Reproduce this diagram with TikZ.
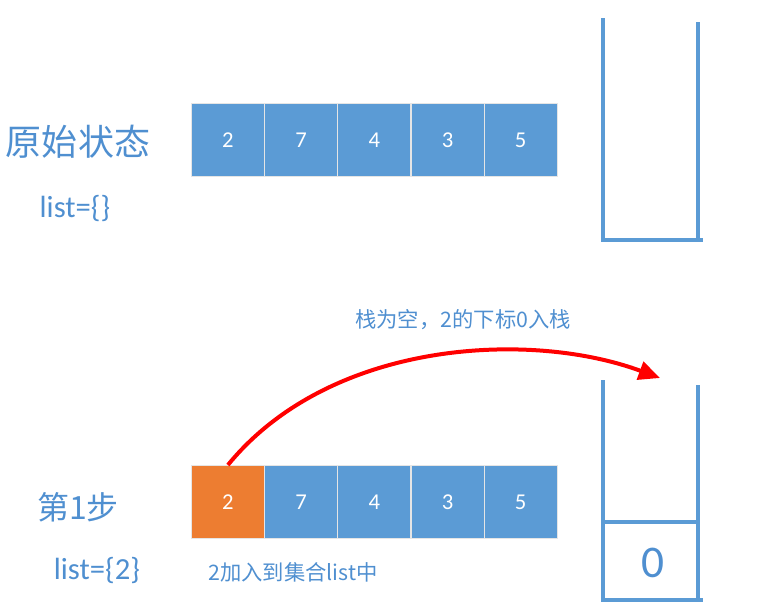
\documentclass[tikz,border=0pt]{standalone}
\usepackage{fontspec}
\usetikzlibrary{arrows.meta}
\setmainfont{Carlito}
\newfontfamily\cjk{Noto Sans CJK SC}
\definecolor{bl}{HTML}{5B9BD5}
\definecolor{txt}{HTML}{4F8FD0}
\definecolor{org}{HTML}{ED7D31}
\begin{document}
\begin{tikzpicture}[x=0.75pt,y=-0.75pt,
  cell/.style={draw=white!80!gray,line width=0.6pt,fill=bl,text=white,minimum width=54.75pt,minimum height=54.75pt,inner sep=0pt,font=\fontsize{17}{20}\selectfont,anchor=north west},
  lbl/.style={text=txt,inner sep=0pt},
  stk/.style={draw=bl,line width=2.4pt,line join=miter}]
\useasboundingbox (0,0) rectangle (759,612);
% top row
\foreach \v [count=\i from 0] in {2,7,4,3,5}
  \node[cell] (t\i) at (191+73.2*\i,103) {\v};
\node[lbl,font=\cjk\fontsize{27}{30}\selectfont] (s0) at (78,142) {原始状态};
\node[lbl,font=\fontsize{23}{26}\selectfont] (l0) at (75,208) {list=\{\}};
\draw[stk] (603,18) -- (603,240) -- (703,240);
\draw[stk] (698,22) -- (698,240);
% bottom row
\foreach \v [count=\i from 0] in {2,7,4,3,5}
  \node[cell] (b\i) at (191+73.2*\i,465) {\v};
\path (b0) node[cell,fill=org,anchor=center] (b0o) {2};
\node[lbl,font=\cjk\fontsize{24}{28}\selectfont] (s1) at (78,507) {第1步};
\node[lbl,font=\fontsize{23}{26}\selectfont] (l1) at (97,570) {list=\{2\}};
\node[lbl,font=\cjk\fontsize{16}{20}\selectfont] (n1) at (293,572) {2加入到集合list中};
\node[lbl,font=\cjk\fontsize{16}{20}\selectfont] (n2) at (463,320) {栈为空，2的下标0入栈};
\draw[stk] (603,380) -- (603,600) -- (703,600);
\draw[stk] (698,385) -- (698,600);
\draw[stk] (603,522) -- (698,522);
\node[lbl,font=\fontsize{34}{40}\selectfont] (z) at (653,563) {0};
\coordinate (tip) at (660,378);
\draw[red,line width=3pt,-{Triangle[length=16pt,width=14pt]}] (b0o.north) .. controls (330,340) and (530,330) .. (tip);
\end{tikzpicture}
\end{document}
